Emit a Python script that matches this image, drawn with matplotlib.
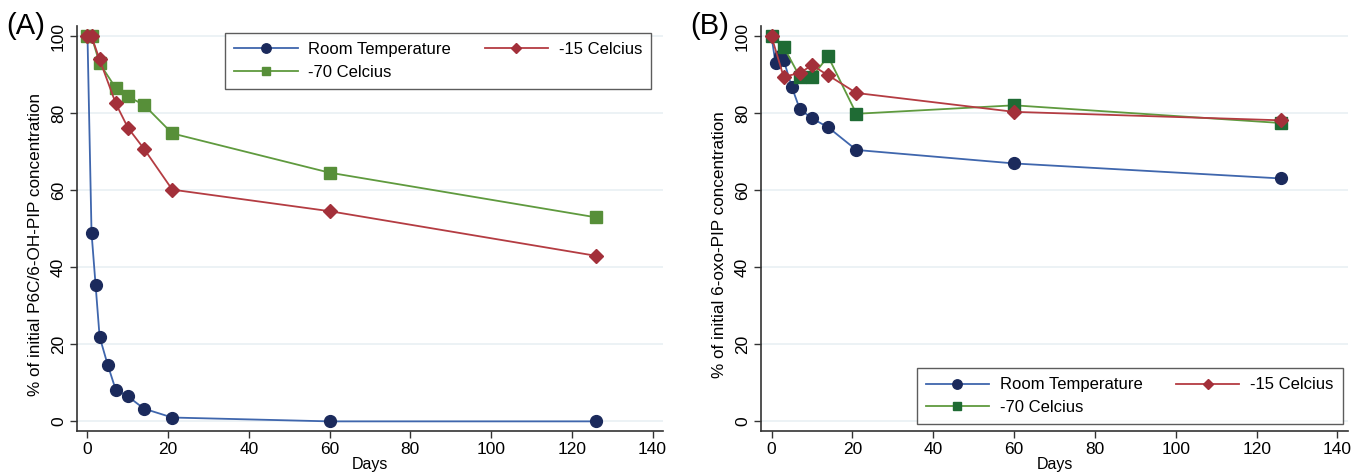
import matplotlib
matplotlib.use('Agg')
import matplotlib.pyplot as plt

plt.rcParams['font.family'] = ['Liberation Sans', 'DejaVu Sans']

# panel A: P6C/6-OH-PIP
days_rt_a = [0, 1, 2, 3, 5, 7, 10, 14, 21, 60, 126]
rt_a = [100, 49, 35.5, 22, 14.7, 8.2, 6.5, 3.3, 1.0, 0, 0]
days_cold_a = [0, 1, 3, 7, 10, 14, 21, 60, 126]
m15_a = [100, 100, 94, 82.6, 76.3, 70.8, 60.2, 54.6, 43]
m70_a = [100, 100, 93, 86.6, 84.4, 82.2, 74.8, 64.6, 53]

# panel B: 6-oxo-PIP
days_rt_b = [0, 1, 2, 3, 5, 7, 10, 14, 21, 60, 126]
rt_b = [100, 93, 94.9, 93.9, 86.9, 81.1, 78.7, 76.4, 70.5, 67, 63.1]
days_cold_b = [0, 3, 7, 10, 14, 21, 60, 126]
m15_b = [100, 89.5, 90.5, 92.5, 89.9, 85.3, 80.4, 78.2]
m70_b = [100, 97.3, 89.5, 89.5, 94.8, 79.9, 82.1, 77.5]

labels = ['Room Temperature', '-15 Celcius', '-70 Celcius']
xticks = [0, 20, 40, 60, 80, 100, 120, 140]
yticks = [0, 20, 40, 60, 80, 100]

blue_line, blue_mk = '#3f66ad', '#1b2a5c'
red_line, red_mk = '#b43c42', '#a3303a'
green_line = '#5f9a3e'

fig = plt.figure(figsize=(13.52, 4.75), dpi=100)
axA = fig.add_axes([77 / 1352, 1 - 431 / 475, 586 / 1352, 405 / 475])
axB = fig.add_axes([761 / 1352, 1 - 431 / 475, 587 / 1352, 405 / 475])


def draw(ax, d_rt, rt, d_c, m15, m70, green_mk, ylabel, tag, leg_loc):
    h1, = ax.plot(d_rt, rt, '-o', color=blue_line, mfc=blue_mk, mec=blue_mk,
                  ms=8.5, lw=1.3, label=labels[0], zorder=3)
    h3, = ax.plot(d_c, m70, '-s', color=green_line, mfc=green_mk, mec=green_mk,
                  ms=8, lw=1.3, label=labels[2], zorder=3)
    h2, = ax.plot(d_c, m15, '-D', color=red_line, mfc=red_mk, mec=red_mk,
                  ms=7, lw=1.3, label=labels[1], zorder=4)
    ax.set_xlim(-2.6, 142.6)
    ax.set_ylim(-2.5, 102.7)
    ax.set_xticks(xticks)
    ax.set_yticks(yticks)
    ax.set_yticklabels([str(v) for v in yticks], rotation=90, va='center')
    ax.tick_params(labelsize=12.5, length=5, width=1, color='#333333', pad=3)
    ax.grid(axis='y', color='#e9f0f3', lw=1.2)
    ax.set_axisbelow(True)
    for s in ['top', 'right']:
        ax.spines[s].set_visible(False)
    for s in ['left', 'bottom']:
        ax.spines[s].set_color('#333333')
        ax.spines[s].set_linewidth(1.2)
    ax.set_xlabel('Days', fontsize=11.5, labelpad=0)
    ax.set_ylabel(ylabel, fontsize=12.3, labelpad=4)
    ax.yaxis.set_label_coords(-0.058, 0.46)
    ax.text(-0.12, 1.0, tag, transform=ax.transAxes, fontsize=21,
            ha='left', va='center')
    leg = ax.legend([h1, h3, h2], [labels[0], labels[2], labels[1]], ncol=2,
                    loc=leg_loc[0], bbox_to_anchor=leg_loc[1], fontsize=12,
                    frameon=True, fancybox=False, edgecolor='#333333',
                    handlelength=3.8, columnspacing=2.0, handletextpad=0.65,
                    borderpad=0.55, labelspacing=0.45, markerscale=0.8,
                    borderaxespad=0)
    leg.get_frame().set_linewidth(1.0)


draw(axA, days_rt_a, rt_a, days_cold_a, m15_a, m70_a, '#578f39',
     '% of initial P6C/6-OH-PIP concentration', '(A)',
     ('upper right', (0.98, 0.983)))
draw(axB, days_rt_b, rt_b, days_cold_b, m15_b, m70_b, '#1f6b34',
     '% of initial 6-oxo-PIP concentration', '(B)',
     ('lower right', (0.991, 0.017)))

fig.savefig('out.png', dpi=100)
